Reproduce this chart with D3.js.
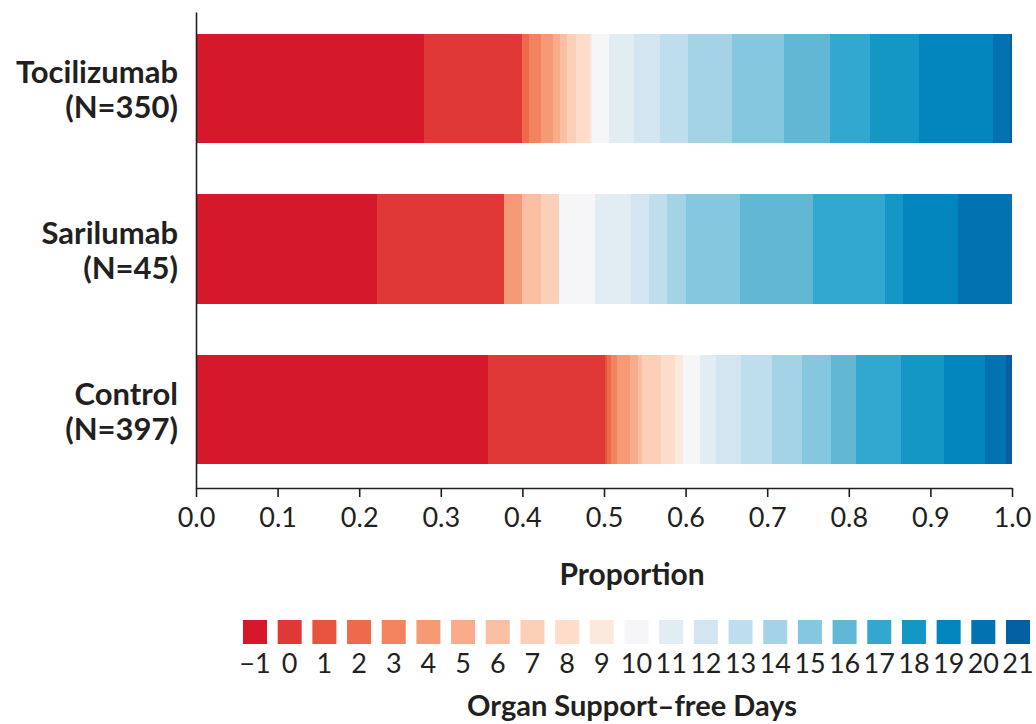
<!DOCTYPE html>
<html>
<head>
<meta charset="utf-8">
<script src="https://cdn.jsdelivr.net/npm/d3@7"></script>
<style>
  html, body { margin: 0; padding: 0; background: #fff; }
  svg text { font-family: Lato, "Open Sans", "Noto Sans", sans-serif; fill: #231f20; }
</style>
</head>
<body>
<svg id="chart" width="1036" height="724"></svg>
<script>
// ---- Data ----
const groups = ["Tocilizumab", "Sarilumab", "Control"];
const groupN = [350, 45, 397];
const days = [-1, 0, 1, 2, 3, 4, 5, 6, 7, 8, 9, 10, 11, 12, 13, 14, 15, 16, 17, 18, 19, 20, 21];
const dayLabels = ["\u22121", "0", "1", "2", "3", "4", "5", "6", "7", "8", "9", "10", "11", "12", "13", "14", "15", "16", "17", "18", "19", "20", "21"];
// patient counts per organ support-free day category (-1 .. 21)
const tocilizumabCounts = [98, 42, 0, 3, 5, 5, 3, 3, 4, 6, 1, 7, 11, 11, 12, 19, 22, 20, 17, 21, 32, 7, 1];
const sarilumabCounts   = [10, 7, 0, 0, 0, 1, 0, 1, 1, 0, 0, 2, 2, 1, 1, 1, 3, 4, 4, 1, 3, 3, 0];
const controlCounts     = [142, 57, 1, 2, 3, 6, 4, 2, 9, 7, 4, 8, 8, 12, 15, 15, 14, 12, 22, 21, 20, 10, 3];
const xTicks = [0, 0.1, 0.2, 0.3, 0.4, 0.5, 0.6, 0.7, 0.8, 0.9, 1.0];
const palette = ["#d6182b", "#e03837", "#e8533f", "#ee6a4c", "#f3825e", "#f69a76", "#f8ac8a", "#fabea2",
                 "#fccfb7", "#fddcc9", "#fce9de", "#f6f6f8", "#e2edf3", "#d2e5f0", "#bedded", "#a5d3e6",
                 "#86c7e0", "#62b7d5", "#32a7d0", "#1497c5", "#0386bd", "#0372b0", "#035fa0"];

const countsByGroup = [tocilizumabCounts, sarilumabCounts, controlCounts];

// ---- Layout ----
const svg = d3.select("#chart");
const margin = { left: 196, top: 12 };

const x = d3.scaleLinear().domain([0, 1]).range([margin.left, 1012]);
const y = d3.scaleBand().domain(groups).range([margin.top, 488]).paddingInner(0.319).paddingOuter(0.14);
const color = d3.scaleOrdinal().domain(days).range(palette);

// build stacked segments
const segs = [];
groups.forEach((g, gi) => {
  const counts = countsByGroup[gi];
  const total = d3.sum(counts);
  let cum = 0;
  counts.forEach((c, di) => {
    const p0 = cum / total;
    cum += c;
    const p1 = cum / total;
    if (c > 0) segs.push({ group: g, day: days[di], p0, p1 });
  });
});

svg.append("g").selectAll("rect").data(segs).join("rect")
  .attr("x", d => x(d.p0))
  .attr("width", d => x(d.p1) - x(d.p0) + 0.3)
  .attr("y", d => y(d.group) - 1)
  .attr("height", y.bandwidth())
  .attr("fill", d => color(d.day))
  .attr("shape-rendering", "crispEdges");

// x axis
const xAxis = svg.append("g").attr("transform", "translate(0,488)")
  .call(d3.axisBottom(x).tickValues(xTicks).tickFormat(d3.format(".1f")).tickSize(9).tickSizeOuter(0).tickPadding(11));
xAxis.select(".domain").attr("stroke", "#231f20").attr("stroke-width", 1.6);
xAxis.selectAll(".tick line").attr("stroke", "#231f20").attr("stroke-width", 1.6);
xAxis.selectAll(".tick text").style("font-size", "27px").attr("fill", "#231f20")
  .style("font-family", "Lato, 'Open Sans', sans-serif");

// y axis line
const yAxis = svg.append("g").attr("transform", `translate(${margin.left},0)`)
  .call(d3.axisLeft(y).tickSize(0).tickFormat(""));
yAxis.select(".domain").attr("stroke", "#231f20").attr("stroke-width", 1.6);

// y labels (two lines)
groups.forEach((g, gi) => {
  const cy = y(g) + y.bandwidth() / 2;
  const t = svg.append("text").attr("text-anchor", "end")
    .style("font-size", "31px").style("font-weight", "700");
  t.append("tspan").attr("x", 178).attr("y", cy - 6).text(g);
  t.append("tspan").attr("x", 178).attr("y", cy + 29).text(`(N=${groupN[gi]})`);
});

// x axis title
svg.append("text").attr("x", 632).attr("y", 585)
  .attr("text-anchor", "middle").style("font-size", "30px").style("font-weight", "700")
  .text("Proportion");

// legend
const lx = d3.scalePoint().domain(days).range([255, 1018]);
const leg = svg.append("g");
leg.selectAll("rect").data(days).join("rect")
  .attr("x", d => lx(d) - 12).attr("y", 620).attr("width", 24).attr("height", 24)
  .attr("fill", d => color(d));
leg.selectAll("text").data(days).join("text")
  .attr("x", d => lx(d)).attr("y", 673).attr("text-anchor", "middle")
  .style("font-size", "27px")
  .text((d, i) => dayLabels[i]);

svg.append("text").attr("x", 632).attr("y", 716)
  .attr("text-anchor", "middle").style("font-size", "29px").style("font-weight", "700")
  .text("Organ Support\u2013free Days");
</script>
</body>
</html>
